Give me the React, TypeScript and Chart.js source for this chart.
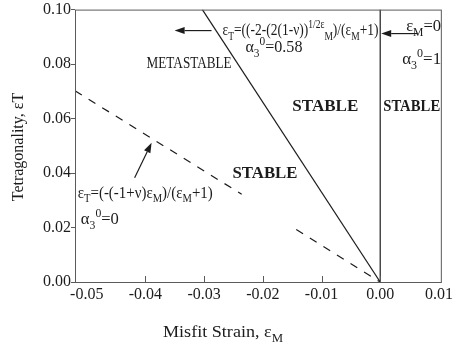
import React, { useEffect, useRef } from "react";
import { Chart, registerables } from "chart.js";

Chart.register(...registerables);

// ---- data ----
const xMin = -0.052;
const xMax = 0.0105;
const xTicks = [-0.05, -0.04, -0.03, -0.02, -0.01, 0.0, 0.01];
const xMarkTicks = [-0.04, -0.03, -0.02, -0.01, 0.0];
const yTicks = [0.0, 0.02, 0.04, 0.06, 0.08, 0.1];

// solid boundary (alpha3^0 = 0.58)
const solidX = [-0.0303, 0.0];
const solidY = [0.1, 0.0];
// dashed boundary (alpha3^0 = 0), drawn with a gap as in the figure
const dashAX = [-0.052, -0.0236];
const dashAY = [0.0702, 0.0322];
const dashBX = [-0.0143, 0.0];
const dashBY = [0.0193, 0.0];
// vertical boundary eps_M = 0
const vertX = [0.0, 0.0];
const vertY = [0.0, 0.1];

type Seg = [string, "n" | "sub" | "sup"];
type Label = { segs: Seg[]; x: number; y: number; w: number; size: number; bold?: boolean };

const labels: Label[] = [
  {
    segs: [["ε", "n"], ["T", "sub"], ["=((-2-(2(1-ν))", "n"], ["1/2ε", "sup"], ["M", "sub"], [")/(ε", "n"], ["M", "sub"], ["+1)", "n"]],
    x: -0.02687, y: 0.0905, w: 156, size: 17,
  },
  { segs: [["α", "n"], ["3", "sub"], ["0", "sup"], ["=0.58", "n"]], x: -0.02296, y: 0.0845, w: 57, size: 17 },
  { segs: [["METASTABLE", "n"]], x: -0.0398, y: 0.0785, w: 85, size: 17 },
  { segs: [["ε", "n"], ["M", "sub"], ["=0", "n"]], x: 0.00442, y: 0.092, w: 35, size: 17 },
  { segs: [["α", "n"], ["3", "sub"], ["0", "sup"], ["=1", "n"]], x: 0.00374, y: 0.0799, w: 39, size: 17 },
  { segs: [["STABLE", "n"]], x: -0.01497, y: 0.0628, w: 66, size: 17.5, bold: true },
  { segs: [["STABLE", "n"]], x: 0.00051, y: 0.0628, w: 57, size: 17.5, bold: true },
  { segs: [["STABLE", "n"]], x: -0.02517, y: 0.0383, w: 65, size: 17.5, bold: true },
  {
    segs: [["ε", "n"], ["T", "sub"], ["=(-(-1+ν)ε", "n"], ["M", "sub"], [")/(ε", "n"], ["M", "sub"], ["+1)", "n"]],
    x: -0.05153, y: 0.031, w: 135, size: 17,
  },
  { segs: [["α", "n"], ["3", "sub"], ["0", "sup"], ["=0", "n"]], x: -0.051, y: 0.0212, w: 38, size: 17 },
];

// arrows: [fromX, fromY, toX, toY]
const arrows = [
  [-0.02874, 0.0923, -0.03503, 0.0923],
  [0.00629, 0.0912, 0.00017, 0.0912],
  [-0.04184, 0.0383, -0.03895, 0.0511],
];

const FONT = "'Liberation Serif', 'Times New Roman', serif";
const INK = "#1c1c1c";
const AXIS = "#5a5a5a";

function segFont(size: number, mode: string, bold?: boolean) {
  const s = mode === "n" ? size : Math.round(size * 0.68);
  return `${bold ? "bold " : ""}${s}px ${FONT}`;
}

function richWidth(ctx: CanvasRenderingContext2D, segs: Seg[], size: number, bold?: boolean) {
  let natural = 0;
  for (const [t, m] of segs) {
    ctx.font = segFont(size, m, bold);
    natural += ctx.measureText(t).width;
  }
  return natural;
}

function drawRich(ctx: CanvasRenderingContext2D, segs: Seg[], x: number, y: number, size: number, targetW?: number, bold?: boolean) {
  const natural = richWidth(ctx, segs, size, bold);
  const sx = targetW ? targetW / natural : 1;
  ctx.save();
  ctx.translate(x, y);
  ctx.scale(sx, 1);
  ctx.textAlign = "left";
  ctx.textBaseline = "alphabetic";
  let cx = 0;
  for (const [t, m] of segs) {
    ctx.font = segFont(size, m, bold);
    const dy = m === "sub" ? size * 0.28 : m === "sup" ? -size * 0.42 : 0;
    ctx.fillText(t, cx, dy);
    cx += ctx.measureText(t).width;
  }
  ctx.restore();
}

const overlay = {
  id: "overlay",
  afterDraw(chart: any) {
    const { ctx, chartArea: a, scales } = chart;
    const xs = scales.x;
    const ys = scales.y;
    ctx.save();
    // frame
    ctx.strokeStyle = AXIS;
    ctx.lineWidth = 1;
    ctx.strokeRect(a.left + 0.5, a.top + 0.5, a.right - a.left - 1, a.bottom - a.top);
    // inward x ticks
    ctx.beginPath();
    for (const v of xMarkTicks) {
      const px = Math.round(xs.getPixelForValue(v)) + 0.5;
      ctx.moveTo(px, a.bottom);
      ctx.lineTo(px, a.bottom - 6);
    }
    ctx.stroke();

    ctx.fillStyle = INK;
    for (const l of labels) {
      drawRich(ctx, l.segs, xs.getPixelForValue(l.x), ys.getPixelForValue(l.y), l.size, l.w, l.bold);
    }

    // arrows
    ctx.strokeStyle = INK;
    ctx.lineWidth = 1.2;
    for (const [x0, y0, x1, y1] of arrows) {
      const p0x = xs.getPixelForValue(x0), p0y = ys.getPixelForValue(y0);
      const p1x = xs.getPixelForValue(x1), p1y = ys.getPixelForValue(y1);
      const ang = Math.atan2(p1y - p0y, p1x - p0x);
      const hl = 10, hw = 3.5;
      const bx = p1x - hl * Math.cos(ang), by = p1y - hl * Math.sin(ang);
      ctx.beginPath();
      ctx.moveTo(p0x, p0y);
      ctx.lineTo(bx, by);
      ctx.stroke();
      ctx.beginPath();
      ctx.moveTo(p1x, p1y);
      ctx.lineTo(bx + hw * Math.sin(ang), by - hw * Math.cos(ang));
      ctx.lineTo(bx - hw * Math.sin(ang), by + hw * Math.cos(ang));
      ctx.closePath();
      ctx.fill();
    }

    // axis titles
    ctx.fillStyle = INK;
    const xt: Seg[] = [["Misfit Strain, ε", "n"], ["M", "sub"]];
    drawRich(ctx, xt, 163, 337, 17, 120);

    ctx.save();
    ctx.translate(23, 147);
    ctx.rotate(-Math.PI / 2);
    ctx.font = `16px ${FONT}`;
    ctx.textAlign = "center";
    ctx.textBaseline = "alphabetic";
    ctx.fillText("Tetragonality, εT", 0, 0);
    ctx.restore();
    ctx.restore();
  },
};

function pts(xa: number[], ya: number[]) {
  return xa.map((x, i) => ({ x, y: ya[i] }));
}

export default function App() {
  const ref = useRef<HTMLCanvasElement>(null);
  useEffect(() => {
    document.body.style.margin = "0";
    const line = (data: any, dash: number[] = []) => ({
      data,
      showLine: true,
      borderColor: INK,
      borderWidth: 1.2,
      borderDash: dash,
      pointRadius: 0,
      fill: false,
    });
    const chart = new Chart(ref.current!, {
      type: "scatter",
      data: {
        datasets: [
          line(pts(solidX, solidY)),
          line(pts(dashAX, dashAY), [8, 8]),
          line(pts(dashBX, dashBY), [8, 8]),
          line(pts(vertX, vertY)),
        ],
      },
      options: {
        animation: false,
        responsive: false,
        devicePixelRatio: 1,
        layout: { padding: { top: 8, right: 13, left: 0, bottom: 0 } },
        plugins: { legend: { display: false }, tooltip: { enabled: false } },
        scales: {
          x: {
            type: "linear",
            min: xMin,
            max: xMax,
            afterBuildTicks: (s: any) => { s.ticks = xTicks.map((v) => ({ value: v })); },
            afterFit: (s: any) => { s.height = 65; },
            ticks: {
              callback: (v: any) => Number(v).toFixed(2).replace("-0.00", "0.00"),
              font: { family: FONT, size: 16 },
              color: INK,
              padding: 3,
              maxRotation: 0,
              autoSkip: false,
            },
            grid: { display: false, drawOnChartArea: false, drawTicks: false },
            border: { display: false },
          },
          y: {
            type: "linear",
            min: 0,
            max: 0.1,
            afterBuildTicks: (s: any) => { s.ticks = yTicks.map((v) => ({ value: v })); },
            afterFit: (s: any) => { s.width = 75; },
            ticks: {
              callback: (v: any) => Number(v).toFixed(2),
              font: { family: FONT, size: 16 },
              color: INK,
              padding: 0,
              autoSkip: false,
            },
            grid: { display: true, drawOnChartArea: false, drawTicks: true, tickLength: 4, color: AXIS },
            border: { display: false },
          },
        },
      },
      plugins: [overlay],
    });
    return () => chart.destroy();
  }, []);
  return (
    <canvas
      ref={ref}
      width={456}
      height={347}
      style={{ display: "block", position: "fixed", left: 0, top: 0, width: 456, height: 347 }}
    />
  );
}
